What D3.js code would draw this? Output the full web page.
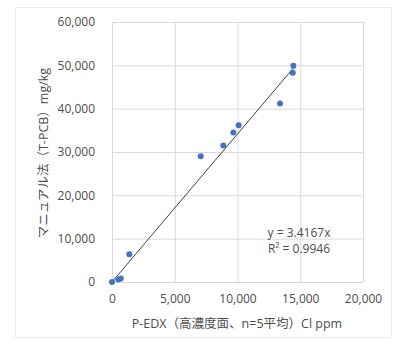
<!DOCTYPE html>
<html>
<head>
<meta charset="utf-8">
<script src="https://cdn.jsdelivr.net/npm/d3@7"></script>
<style>
  body { margin: 0; background: #fff; }
  text { font-family: "Open Sans", "Noto Sans CJK JP", sans-serif; fill: #4d4d4d; }
</style>
</head>
<body>
<div id="chart"></div>
<script>
// P-EDX Cl ppm vs manual T-PCB mg/kg
const xValues = [0, 500, 700, 1380, 7070, 8870, 9670, 10090, 13390, 14400, 14450];
const yValues = [0, 600, 800, 6400, 29000, 31500, 34500, 36200, 41200, 48300, 49900];
const xTicks = [0, 5000, 10000, 15000, 20000];
const yTicks = [0, 10000, 20000, 30000, 40000, 50000, 60000];
const slope = 3.4167;
const eqLabels = ["y = 3.4167x", "R² = 0.9946"];

const width = 394, height = 345;
const margin = {top: 22, right: 31, bottom: 63, left: 112};

const svg = d3.select('#chart').append('svg')
  .attr('width', width)
  .attr('height', height);

// chart frame
svg.append('rect')
  .attr('x', 15.5).attr('y', 7.5)
  .attr('width', 376).attr('height', 330)
  .attr('fill', 'none')
  .attr('stroke', '#ececec');

const contentWidth = width - margin.left - margin.right;
const contentHeight = height - margin.top - margin.bottom;

const x = d3.scaleLinear().domain([0, 20000]).range([0, contentWidth]);
const y = d3.scaleLinear().domain([0, 60000]).range([contentHeight, 0]);

const g = svg.append('g')
  .attr('transform', 'translate(' + margin.left + ',' + margin.top + ')');

// gridlines
g.selectAll('.vgrid')
  .data(xTicks)
  .enter().append('line')
    .attr('x1', d => x(d) + 0.5).attr('x2', d => x(d) + 0.5)
    .attr('y1', 0).attr('y2', contentHeight)
    .attr('stroke', '#d9d9d9');

g.selectAll('.hgrid')
  .data(yTicks)
  .enter().append('line')
    .attr('y1', d => y(d) + 0.5).attr('y2', d => y(d) + 0.5)
    .attr('x1', 0).attr('x2', contentWidth)
    .attr('stroke', '#d9d9d9');

// axes (labels only)
const fmt = d3.format(',');
const xAxis = g.append('g')
  .attr('transform', 'translate(0,' + contentHeight + ')')
  .call(d3.axisBottom(x).tickValues(xTicks).tickFormat(fmt).tickSize(0).tickPadding(12));
const yAxis = g.append('g')
  .call(d3.axisLeft(y).tickValues(yTicks).tickFormat(fmt).tickSize(0).tickPadding(17));
[xAxis, yAxis].forEach(a => {
  a.select('.domain').remove();
  a.selectAll('text').style('font-size', '12px').attr('fill', '#4d4d4d');
});

// trendline
const xMax = d3.max(xValues);
g.append('line')
  .attr('x1', x(0)).attr('y1', y(0))
  .attr('x2', x(xMax)).attr('y2', y(slope * xMax))
  .attr('stroke', '#404040')
  .attr('stroke-width', 1);

// points
g.selectAll('.dot')
  .data(xValues)
  .enter().append('circle')
    .attr('cx', d => x(d))
    .attr('cy', (d, i) => y(yValues[i]))
    .attr('r', 3)
    .attr('fill', '#4472c4');

// equation
g.selectAll('.eq')
  .data(eqLabels)
  .enter().append('text')
    .attr('x', 187)
    .attr('y', (d, i) => 215 + i * 16)
    .attr('text-anchor', 'middle')
    .style('font-size', '12px')
    .text(d => d);

// axis titles
svg.append('text')
  .attr('text-anchor', 'middle')
  .attr('x', 237)
  .attr('y', 328)
  .style('font-size', '12.5px')
  .text('P-EDX（高濃度面、n=5平均）Cl ppm');

svg.append('text')
  .attr('text-anchor', 'middle')
  .attr('transform', 'translate(48,153) rotate(-90)')
  .style('font-size', '12.5px')
  .text('マニュアル法（T-PCB）mg/kg');
</script>
</body>
</html>
